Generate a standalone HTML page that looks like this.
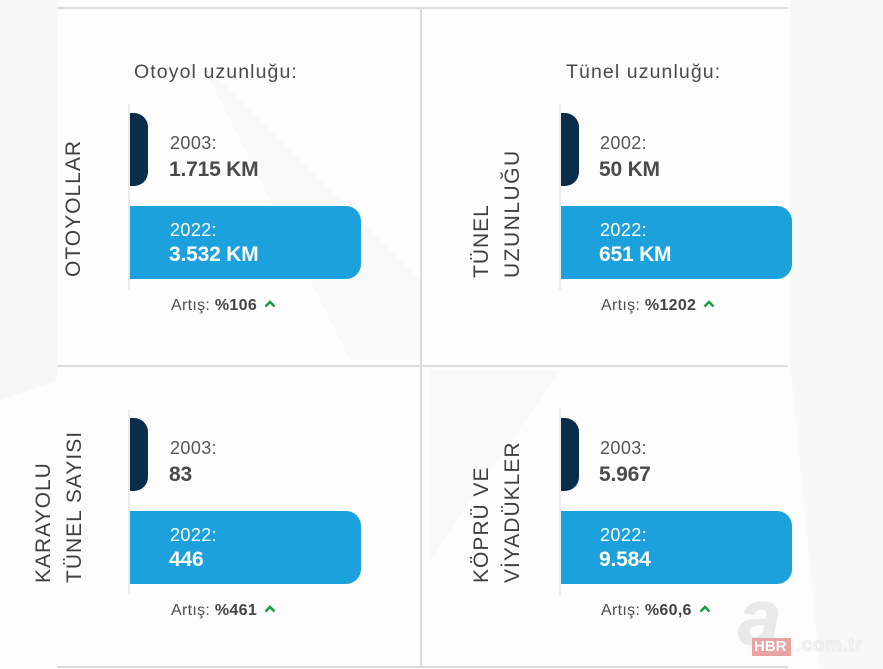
<!DOCTYPE html>
<html>
<head>
<meta charset="utf-8">
<style>
html,body{margin:0;padding:0;}
body{width:883px;height:669px;position:relative;overflow:hidden;background:#fdfdfd;font-family:"Liberation Sans",sans-serif;}
.abs{position:absolute;white-space:nowrap;}
.hl{position:absolute;height:2px;background:#dcdcdc;}
.vl{position:absolute;width:2px;background:#dcdcdc;}
.dark{position:absolute;width:18px;height:73px;background:#0c2c4c;border-radius:0 14px 14px 0;}
.blue{position:absolute;width:231px;height:73px;background:#1ca1dd;border-radius:0 15px 15px 0;}
.shadow{position:absolute;width:2px;background:#ececec;}
.title{font-size:19.5px;line-height:19.5px;color:#4a4a4a;letter-spacing:1.1px;}
.yr{font-size:18px;line-height:18px;color:#555;letter-spacing:0.4px;}
.val{font-size:21px;line-height:21px;color:#4a4a4a;font-weight:bold;letter-spacing:-0.2px;}
.w{color:#fff;}
.art{font-size:16px;line-height:16px;color:#4d4d4d;letter-spacing:0.3px;}
.art b{color:#444;}
.rot{position:absolute;white-space:nowrap;font-size:21px;line-height:21px;color:#3f3f3f;letter-spacing:1px;transform:rotate(-90deg);transform-origin:left top;}
.chev{display:inline-block;vertical-align:middle;margin-left:7px;margin-top:-4px;}
</style>
</head>
<body>
<svg class="abs" style="left:0;top:0" width="883" height="669">
  <polygon points="0,0 57,0 57,380 0,400" fill="#f7f7f7"/>
  <polygon points="200,60 420,280 420,360 350,360" fill="#f9f9f9"/>
  <polygon points="790,0 883,0 883,669 820,669 790,360" fill="#f8f8f8"/>
  <polygon points="430,370 560,370 430,560" fill="#f9f9f9"/>
</svg>

<!-- grid lines -->
<div class="hl" style="left:57px;top:7px;width:731px;"></div>
<div class="hl" style="left:57px;top:365px;width:731px;"></div>
<div class="hl" style="left:57px;top:666px;width:731px;"></div>
<div class="vl" style="left:420px;top:8px;height:659px;"></div>

<!-- Panel 1 -->
<div class="abs title" style="left:134px;top:62.5px;">Otoyol uzunluğu:</div>
<div class="shadow" style="left:128px;top:104px;height:186px;"></div>
<div class="dark" style="left:130px;top:113px;"></div>
<div class="blue" style="left:130px;top:206px;"></div>
<div class="abs yr" style="left:170px;top:133.7px;">2003:</div>
<div class="abs val" style="left:169px;top:159.3px;">1.715 KM</div>
<div class="abs yr w" style="left:170px;top:220.7px;">2022:</div>
<div class="abs val w" style="left:169px;top:244.3px;">3.532 KM</div>
<div class="abs art" style="left:171px;top:297.9px;">Artış: <b>%106</b><svg class="chev" width="12" height="8"><polyline points="1.5,6.5 6,2 10.5,6.5" fill="none" stroke="#1c9b4c" stroke-width="2.6"/></svg></div>
<div class="rot" style="left:63px;top:277px;">OTOYOLLAR</div>

<!-- Panel 2 -->
<div class="abs title" style="left:566px;top:62.5px;">Tünel uzunluğu:</div>
<div class="shadow" style="left:559px;top:104px;height:186px;"></div>
<div class="dark" style="left:561px;top:113px;"></div>
<div class="blue" style="left:561px;top:206px;"></div>
<div class="abs yr" style="left:600px;top:133.7px;">2002:</div>
<div class="abs val" style="left:599px;top:159.3px;">50 KM</div>
<div class="abs yr w" style="left:600px;top:220.7px;">2022:</div>
<div class="abs val w" style="left:599px;top:244.3px;">651 KM</div>
<div class="abs art" style="left:601px;top:297.9px;">Artış: <b>%1202</b><svg class="chev" width="12" height="8"><polyline points="1.5,6.5 6,2 10.5,6.5" fill="none" stroke="#1c9b4c" stroke-width="2.6"/></svg></div>
<div class="rot" style="left:471px;top:278px;">TÜNEL</div>
<div class="rot" style="left:502px;top:278px;letter-spacing:1.5px;">UZUNLUĞU</div>

<!-- Panel 3 -->
<div class="shadow" style="left:128px;top:409px;height:186px;"></div>
<div class="dark" style="left:130px;top:418px;"></div>
<div class="blue" style="left:130px;top:511px;"></div>
<div class="abs yr" style="left:170px;top:438.7px;">2003:</div>
<div class="abs val" style="left:169px;top:464.3px;">83</div>
<div class="abs yr w" style="left:170px;top:525.7px;">2022:</div>
<div class="abs val w" style="left:169px;top:549.3px;">446</div>
<div class="abs art" style="left:171px;top:602.9px;">Artış: <b>%461</b><svg class="chev" width="12" height="8"><polyline points="1.5,6.5 6,2 10.5,6.5" fill="none" stroke="#1c9b4c" stroke-width="2.6"/></svg></div>
<div class="rot" style="left:33px;top:583px;">KARAYOLU</div>
<div class="rot" style="left:64px;top:583px;">TÜNEL SAYISI</div>

<!-- Panel 4 -->
<div class="shadow" style="left:559px;top:409px;height:186px;"></div>
<div class="dark" style="left:561px;top:418px;"></div>
<div class="blue" style="left:561px;top:511px;"></div>
<div class="abs yr" style="left:600px;top:438.7px;">2003:</div>
<div class="abs val" style="left:599px;top:464.3px;">5.967</div>
<div class="abs yr w" style="left:600px;top:525.7px;">2022:</div>
<div class="abs val w" style="left:599px;top:549.3px;">9.584</div>
<div class="abs art" style="left:601px;top:602.9px;">Artış: <b>%60,6</b><svg class="chev" width="12" height="8"><polyline points="1.5,6.5 6,2 10.5,6.5" fill="none" stroke="#1c9b4c" stroke-width="2.6"/></svg></div>
<div class="rot" style="left:471px;top:583px;">KÖPRÜ VE</div>
<div class="rot" style="left:502px;top:583px;">VİYADÜKLER</div>

<!-- watermark -->
<div class="abs" style="left:738px;top:578px;font-size:78px;line-height:78px;font-weight:bold;font-style:italic;color:#e9e9e9;text-shadow:0 0 1px #cfcfcf;">a</div>
<div class="abs" style="left:752px;top:638px;width:39px;height:18px;background:#eaa3a3;"></div>
<div class="abs" style="left:754px;top:639px;font-size:15px;line-height:16px;font-weight:bold;color:#fff;">HBR</div>
<div class="abs" style="left:796px;top:636px;font-size:19px;line-height:20px;font-weight:bold;color:#f2f2f2;letter-spacing:0.5px;text-shadow:0 0 1px #bdbdbd;">.com.tr</div>
</body>
</html>
